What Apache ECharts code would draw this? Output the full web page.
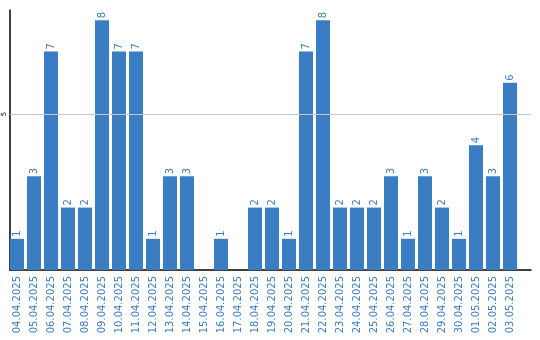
<!DOCTYPE html>
<html><head><meta charset="utf-8">
<script src="https://cdn.jsdelivr.net/npm/echarts@6/dist/echarts.min.js"></script>
<style>html,body{margin:0;padding:0;background:#fff}#c{width:540px;height:340px}</style>
</head><body><div id="c"></div>
<script>
const categories = ['04.04.2025','05.04.2025','06.04.2025','07.04.2025','08.04.2025','09.04.2025','10.04.2025','11.04.2025','12.04.2025','13.04.2025','14.04.2025','15.04.2025','16.04.2025','17.04.2025','18.04.2025','19.04.2025','20.04.2025','21.04.2025','22.04.2025','23.04.2025','24.04.2025','25.04.2025','26.04.2025','27.04.2025','28.04.2025','29.04.2025','30.04.2025','01.05.2025','02.05.2025','03.05.2025'];
const values = [1,3,7,2,2,8,7,7,1,3,3,0,1,0,2,2,1,7,8,2,2,2,3,1,3,2,1,4,3,6];
const gridValue = 5;
const yMax = 8.33;

const chart = echarts.init(document.getElementById('c'), null, {renderer:'canvas'});
chart.setOption({
  animation:false,
  grid:[
    {left:8.5,right:21.5,top:10,bottom:70,containLabel:false},
    {left:10,right:9,top:10,bottom:70,containLabel:false}
  ],
  xAxis:[
    {type:'category',gridIndex:0,data:categories,
      axisLine:{show:false},axisTick:{show:false},
      axisLabel:{rotate:90,interval:0,color:'#3b7dc2',fontFamily:'DejaVu Sans',fontSize:10,margin:6}},
    {type:'value',gridIndex:1,min:0,max:1,
      axisLine:{show:true,onZero:false,lineStyle:{color:'#000',width:1.5}},
      axisTick:{show:false},axisLabel:{show:false},splitLine:{show:false}}
  ],
  yAxis:[
    {type:'value',gridIndex:0,min:0,max:yMax,show:false,splitLine:{show:false}},
    {type:'value',gridIndex:1,min:0,max:yMax,interval:5,
      axisLine:{show:true,onZero:false,lineStyle:{color:'#000',width:1.5}},
      axisTick:{show:false},splitLine:{show:false},
      axisLabel:{rotate:90,color:'#000',fontFamily:'DejaVu Sans',fontSize:7,margin:2,
        formatter:v=>v===gridValue?String(v):''}}
  ],
  series:[
    {type:'line',xAxisIndex:1,yAxisIndex:1,data:[],
      markLine:{silent:true,symbol:'none',label:{show:false},
        lineStyle:{color:'#c8c8c8',type:'solid',width:1},
        data:[{yAxis:gridValue}]}},
    {type:'bar',xAxisIndex:0,yAxisIndex:0,data:values,barWidth:14,
      itemStyle:{color:'#3b7dc2'},
      label:{show:true,position:'top',rotate:90,align:'left',verticalAlign:'middle',distance:2,
        color:'#3b7dc2',fontFamily:'DejaVu Sans',fontSize:10,
        formatter:p=>p.value?String(p.value):''}}
  ]
});
</script></body></html>
